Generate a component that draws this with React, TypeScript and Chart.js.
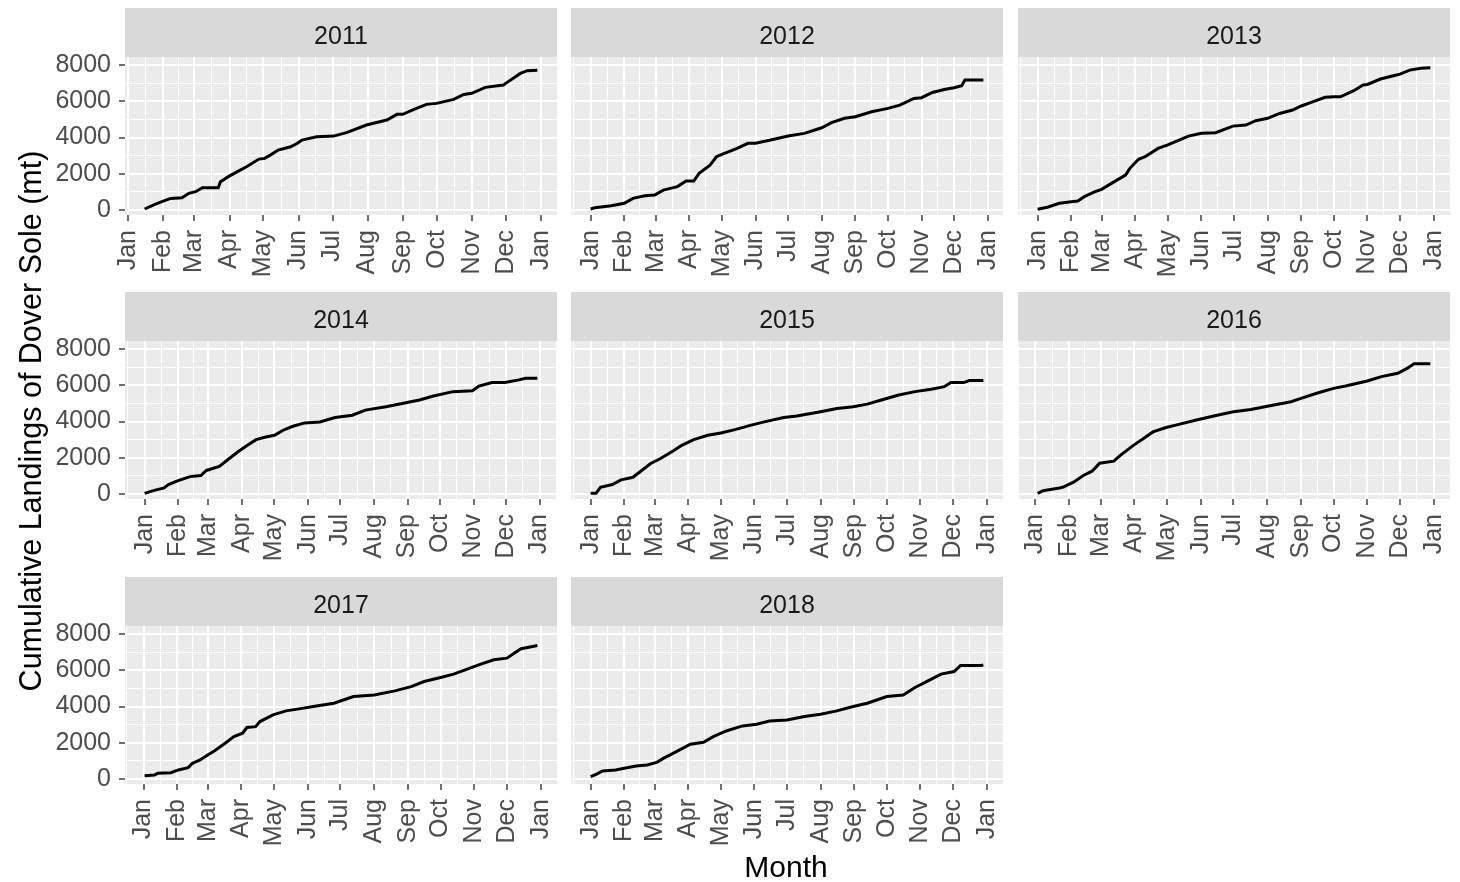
import React, { useEffect, useRef } from "react";
import { Chart, registerables } from "chart.js";

Chart.register(...registerables);

// ---------- data ----------
const MONTH_LABELS = ["Jan", "Feb", "Mar", "Apr", "May", "Jun", "Jul", "Aug", "Sep", "Oct", "Nov", "Dec", "Jan"];
const MONTH_STARTS_COMMON = [0, 31, 59, 90, 120, 151, 181, 212, 243, 273, 304, 334, 365];
const MONTH_STARTS_LEAP = [0, 31, 60, 91, 121, 152, 182, 213, 244, 274, 305, 335, 366];
const Y_MAJOR = [0, 2000, 4000, 6000, 8000];
const Y_MINOR = [1000, 3000, 5000, 7000];

// day of year (0 = Jan 1) and cumulative landings (mt)
const DAYS_2011 = [15, 24, 32, 38, 48, 54, 60, 66, 80, 82, 89, 97, 105, 116, 121, 126, 133, 144, 150, 154, 167, 182, 194, 211, 229, 238, 243, 253, 264, 273, 288, 297, 304, 316, 332, 334, 347, 353, 362];
const LAND_2011 = [55, 310, 500, 640, 680, 920, 1010, 1230, 1230, 1560, 1840, 2115, 2390, 2810, 2850, 3030, 3310, 3490, 3680, 3860, 4045, 4080, 4285, 4690, 4965, 5280, 5280, 5550, 5830, 5885, 6105, 6380, 6440, 6770, 6900, 6990, 7540, 7690, 7720];

const DAYS_2012 = [0, 4, 19, 31, 39, 50, 59, 67, 80, 88, 95, 100, 110, 116, 121, 135, 145, 152, 166, 182, 197, 213, 222, 234, 244, 259, 274, 285, 298, 305, 315, 327, 335, 342, 345, 362];
const LAND_2012 = [55, 130, 240, 370, 640, 790, 830, 1100, 1290, 1600, 1600, 2020, 2480, 2940, 3070, 3400, 3680, 3680, 3860, 4080, 4230, 4540, 4820, 5060, 5150, 5420, 5610, 5790, 6160, 6200, 6490, 6660, 6750, 6860, 7170, 7170];

const DAYS_2013 = [0, 9, 20, 31, 37, 43, 53, 59, 68, 81, 85, 93, 99, 111, 120, 132, 139, 151, 164, 180, 192, 201, 212, 223, 235, 243, 254, 265, 273, 279, 291, 300, 304, 316, 328, 334, 343, 353, 362];
const LAND_2013 = [37, 150, 370, 460, 500, 735, 1010, 1140, 1470, 1930, 2300, 2800, 2940, 3400, 3590, 3900, 4080, 4230, 4270, 4630, 4690, 4930, 5060, 5330, 5520, 5740, 5980, 6220, 6250, 6250, 6570, 6900, 6930, 7230, 7410, 7500, 7720, 7820, 7850];

const DAYS_2014 = [0, 8, 18, 22, 31, 42, 52, 57, 69, 78, 86, 95, 103, 112, 120, 128, 137, 148, 162, 176, 192, 204, 223, 238, 254, 267, 285, 303, 309, 321, 333, 346, 352, 363];
const LAND_2014 = [37, 185, 333, 520, 740, 960, 1020, 1300, 1520, 1945, 2315, 2685, 3000, 3150, 3240, 3520, 3740, 3925, 3980, 4220, 4350, 4630, 4815, 5000, 5185, 5410, 5650, 5700, 5960, 6150, 6150, 6300, 6390, 6390];

const DAYS_2015 = [0, 5, 9, 20, 28, 39, 45, 55, 64, 76, 84, 95, 108, 120, 133, 148, 160, 178, 190, 212, 227, 242, 255, 268, 284, 299, 314, 326, 332, 344, 349, 362];
const LAND_2015 = [37, 37, 370, 520, 780, 925, 1200, 1670, 1945, 2370, 2685, 3000, 3240, 3370, 3555, 3800, 3980, 4220, 4300, 4540, 4720, 4815, 4960, 5185, 5460, 5650, 5780, 5925, 6150, 6150, 6260, 6260];

const DAYS_2016 = [2, 7, 22, 25, 35, 44, 52, 59, 72, 78, 90, 99, 108, 120, 129, 147, 167, 182, 198, 219, 235, 244, 260, 274, 285, 305, 318, 333, 342, 348, 363];
const LAND_2016 = [37, 185, 333, 370, 650, 1020, 1260, 1700, 1815, 2130, 2685, 3055, 3425, 3670, 3800, 4075, 4350, 4540, 4665, 4910, 5090, 5280, 5590, 5830, 5960, 6240, 6480, 6665, 6945, 7185, 7185];

const DAYS_2017 = [1, 10, 13, 25, 32, 41, 45, 52, 59, 65, 75, 83, 91, 95, 103, 107, 119, 131, 143, 156, 175, 193, 212, 231, 246, 258, 273, 285, 300, 310, 322, 334, 341, 347, 353, 362];
const LAND_2017 = [184, 220, 313, 350, 500, 627, 866, 1050, 1327, 1550, 1970, 2340, 2525, 2840, 2890, 3170, 3540, 3760, 3870, 4000, 4180, 4550, 4640, 4865, 5100, 5380, 5600, 5790, 6120, 6340, 6580, 6670, 6950, 7190, 7260, 7370];

const DAYS_2018 = [0, 5, 11, 23, 31, 42, 52, 61, 67, 79, 92, 104, 113, 125, 140, 153, 165, 181, 197, 212, 227, 242, 255, 273, 288, 299, 311, 323, 335, 341, 360, 362];
const LAND_2018 = [130, 258, 442, 500, 590, 720, 775, 920, 1140, 1510, 1920, 2030, 2340, 2650, 2930, 3020, 3200, 3260, 3450, 3575, 3760, 4000, 4180, 4550, 4640, 5050, 5420, 5790, 5930, 6270, 6270, 6300];

const PANELS = [
  { year: 2011, days: DAYS_2011, vals: LAND_2011, row: 0, col: 0 },
  { year: 2012, days: DAYS_2012, vals: LAND_2012, row: 0, col: 1 },
  { year: 2013, days: DAYS_2013, vals: LAND_2013, row: 0, col: 2 },
  { year: 2014, days: DAYS_2014, vals: LAND_2014, row: 1, col: 0 },
  { year: 2015, days: DAYS_2015, vals: LAND_2015, row: 1, col: 1 },
  { year: 2016, days: DAYS_2016, vals: LAND_2016, row: 1, col: 2 },
  { year: 2017, days: DAYS_2017, vals: LAND_2017, row: 2, col: 0 },
  { year: 2018, days: DAYS_2018, vals: LAND_2018, row: 2, col: 1 },
];

// ---------- layout ----------
const FONT = '"Liberation Sans", Arial, Helvetica, sans-serif';
const COL_LEFT = [125, 571, 1018];
const ROW_TOP = [8, 292, 577];
const PLOT_W = 432;
const STRIP_H = 49;
const PLOT_H = 158;
const AXIS_B = 80;
const Y_MIN = -276;
const Y_MAX = 8445;
const TICK_FONT = 25;

const facetPlugin = {
  id: "facetStrip",
  beforeDraw(chart: any, _args: any, opts: any) {
    const { ctx, chartArea } = chart;
    const { left, right, top, bottom } = chartArea;
    ctx.save();
    ctx.fillStyle = "#EBEBEB";
    ctx.fillRect(left, top, right - left, bottom - top);
    ctx.fillStyle = "#D9D9D9";
    ctx.fillRect(left, 0, right - left, top);
    ctx.fillStyle = "#1A1A1A";
    ctx.font = `${TICK_FONT}px ${FONT}`;
    ctx.textAlign = "center";
    ctx.textBaseline = "middle";
    ctx.fillText(String(opts.label), (left + right) / 2, top / 2 + 5);
    ctx.restore();
  },
};

function Panel({ year, days, vals, row, col }: any) {
  const ref = useRef<HTMLCanvasElement>(null);
  const L = col === 0 ? 125 : 14;
  const R = 14;
  const width = L + PLOT_W + R;
  const height = STRIP_H + PLOT_H + AXIS_B;
  const left = COL_LEFT[col] - L;
  const top = ROW_TOP[row];

  useEffect(() => {
    const leap = year % 4 === 0;
    const starts = leap ? MONTH_STARTS_LEAP : MONTH_STARTS_COMMON;
    const first = days[0];
    const last = days[days.length - 1];
    const pad = (last - first) * 0.05;
    const xmin = first - pad;
    const xmax = last + pad;
    const bd = starts[1] - starts[0];
    const ext = [starts[0] - bd, ...starts, starts[starts.length - 1] + bd];
    const xMinor: number[] = [];
    for (let i = 0; i < ext.length - 1; i++) {
      const m = (ext[i] + ext[i + 1]) / 2;
      if (m >= xmin && m <= xmax) xMinor.push(m);
    }
    const xMajor = starts.filter((v) => v >= xmin && v <= xmax);
    const xAll = [...xMajor, ...xMinor].sort((a, b) => a - b);
    const xMajorSet = new Set(xMajor);
    const yAll = [...Y_MAJOR, ...Y_MINOR].sort((a, b) => a - b);
    const yMajorSet = new Set(Y_MAJOR);
    const showY = col === 0;

    const chart = new Chart(ref.current as HTMLCanvasElement, {
      type: "line",
      data: {
        datasets: [
          {
            data: days.map((d: number, i: number) => ({ x: d, y: vals[i] })),
            borderColor: "#000000",
            borderWidth: 3,
            pointRadius: 0,
            tension: 0,
            fill: false,
          },
        ],
      },
      options: {
        animation: false,
        responsive: false,
        maintainAspectRatio: false,
        devicePixelRatio: 1,
        events: [],
        layout: { padding: { top: STRIP_H, right: R, left: 0, bottom: 0 } },
        plugins: {
          legend: { display: false },
          tooltip: { enabled: false },
          title: { display: false },
          facetStrip: { label: String(year) },
        } as any,
        scales: {
          x: {
            type: "linear",
            min: xmin,
            max: xmax,
            bounds: "data",
            afterBuildTicks: (s: any) => {
              s.ticks = xAll.map((v) => ({ value: v }));
            },
            afterFit: (s: any) => {
              s.height = AXIS_B;
              s.paddingLeft = 0;
              s.paddingRight = 0;
              s.paddingTop = 0;
              s.paddingBottom = 0;
            },
            border: { display: false },
            grid: {
              color: "#FFFFFF",
              lineWidth: (c: any) => (xMajorSet.has(c.tick?.value) ? 2 : 1),
              tickColor: (c: any) => (xMajorSet.has(c.tick?.value) ? "#333333" : "rgba(0,0,0,0)"),
              tickWidth: (c: any) => (xMajorSet.has(c.tick?.value) ? 1.4 : 0),
              tickLength: 6,
              drawTicks: true,
            },
            ticks: {
              autoSkip: false,
              minRotation: 90,
              maxRotation: 90,
              padding: 9,
              color: "#4D4D4D",
              font: { family: FONT, size: TICK_FONT },
              callback: (v: any) => {
                const i = starts.indexOf(Number(v));
                return i >= 0 && xMajorSet.has(Number(v)) ? MONTH_LABELS[i] : "";
              },
            },
          },
          y: {
            type: "linear",
            min: Y_MIN,
            max: Y_MAX,
            bounds: "data",
            afterBuildTicks: (s: any) => {
              s.ticks = yAll.map((v) => ({ value: v }));
            },
            afterFit: (s: any) => {
              s.width = L;
              s.paddingLeft = 0;
              s.paddingRight = 0;
              s.paddingTop = 0;
              s.paddingBottom = 0;
            },
            border: { display: false },
            grid: {
              color: "#FFFFFF",
              lineWidth: (c: any) => (yMajorSet.has(c.tick?.value) ? 2 : 1),
              tickColor: (c: any) => (showY && yMajorSet.has(c.tick?.value) ? "#333333" : "rgba(0,0,0,0)"),
              tickWidth: (c: any) => (yMajorSet.has(c.tick?.value) ? 1.4 : 0),
              tickLength: 6,
              drawTicks: showY,
            },
            ticks: {
              display: showY,
              autoSkip: false,
              padding: 8,
              color: "#4D4D4D",
              font: { family: FONT, size: TICK_FONT },
              callback: (v: any) => (yMajorSet.has(Number(v)) ? String(v) : ""),
            },
          },
        },
      } as any,
      plugins: [facetPlugin],
    });
    return () => chart.destroy();
  }, []);

  return (
    <canvas
      ref={ref}
      width={width}
      height={height}
      style={{ position: "absolute", left, top, width, height }}
    />
  );
}

export default function App() {
  return (
    <div
      style={{
        position: "absolute",
        left: 0,
        top: 0,
        width: 1460,
        height: 882,
        background: "#FFFFFF",
        overflow: "hidden",
        fontFamily: FONT,
      }}
    >
      {PANELS.map((p) => (
        <Panel key={p.year} {...p} />
      ))}
      <div
        style={{
          position: "absolute",
          left: 686,
          top: 852,
          width: 200,
          height: 30,
          lineHeight: "30px",
          fontSize: 30,
          textAlign: "center",
          color: "#000000",
        }}
      >
        Month
      </div>
      <div
        style={{
          position: "absolute",
          left: -270,
          top: 406,
          width: 600,
          height: 30,
          lineHeight: "30px",
          fontSize: 30.5,
          textAlign: "center",
          color: "#000000",
          transform: "rotate(-90deg)",
          whiteSpace: "nowrap",
        }}
      >
        Cumulative Landings of Dover Sole (mt)
      </div>
    </div>
  );
}
